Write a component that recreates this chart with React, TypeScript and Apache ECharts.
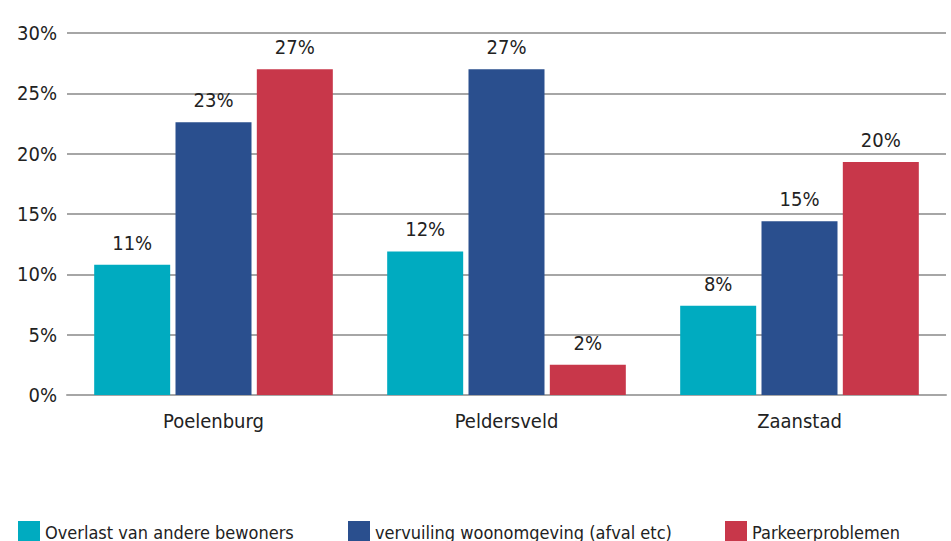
import React, { useEffect, useRef } from "react";
import * as echarts from "echarts";

const categories = ["Poelenburg", "Peldersveld", "Zaanstad"];
const seriesNames = [
  "Overlast van andere bewoners",
  "vervuiling woonomgeving (afval etc)",
  "Parkeerproblemen",
];
const overlast = [10.8, 11.9, 7.4];
const vervuiling = [22.6, 27.0, 14.4];
const parkeer = [27.0, 2.5, 19.3];
const overlastLabels = ["11%", "12%", "8%"];
const vervuilingLabels = ["23%", "27%", "15%"];
const parkeerLabels = ["27%", "2%", "20%"];
const colors = ["#00abc0", "#2a4f8e", "#c8374a"];
const legendLefts = [13, 343, 720];

const FONT = "DejaVu Sans Condensed";

export default function App() {
  const ref = useRef<HTMLDivElement>(null);
  useEffect(() => {
    document.body.style.margin = "0";
    const chart = echarts.init(ref.current!, null, { renderer: "svg" });
    const values = [overlast, vervuiling, parkeer];
    const labels = [overlastLabels, vervuilingLabels, parkeerLabels];
    chart.setOption({
      animation: false,
      textStyle: { fontFamily: FONT },
      grid: { left: 67, right: 5, top: 33, bottom: 146 },
      legend: seriesNames.map((name, i) => ({
        left: legendLefts[i],
        top: 516,
        itemWidth: 22,
        itemHeight: 22,
        itemGap: 9,
        icon: "rect",
        textStyle: { fontFamily: FONT, fontSize: 18, color: "#222" },
        data: [name],
      })),
      xAxis: {
        type: "category",
        data: categories,
        axisLine: { show: true, lineStyle: { color: "#a6a6a6", width: 2 } },
        axisTick: { show: false },
        axisLabel: { fontFamily: FONT, fontSize: 20, color: "#222", margin: 16 },
      },
      yAxis: {
        type: "value",
        min: 0,
        max: 30,
        interval: 5,
        axisLine: { show: false },
        axisTick: { show: false },
        splitLine: { lineStyle: { color: "#a6a6a6", width: 2 } },
        axisLabel: {
          formatter: "{value}%",
          fontFamily: FONT,
          fontSize: 20,
          color: "#222",
          margin: 10,
        },
      },
      series: seriesNames.map((name, i) => ({
        name,
        type: "bar",
        barWidth: 76,
        barGap: "7%",
        itemStyle: { color: colors[i] },
        data: values[i],
        label: {
          show: true,
          position: "top",
          distance: 12,
          fontFamily: FONT,
          fontSize: 20,
          color: "#222",
          formatter: (p: any) => labels[i][p.dataIndex],
        },
      })),
    });
    return () => chart.dispose();
  }, []);
  return <div ref={ref} style={{ width: 951, height: 541 }} />;
}
